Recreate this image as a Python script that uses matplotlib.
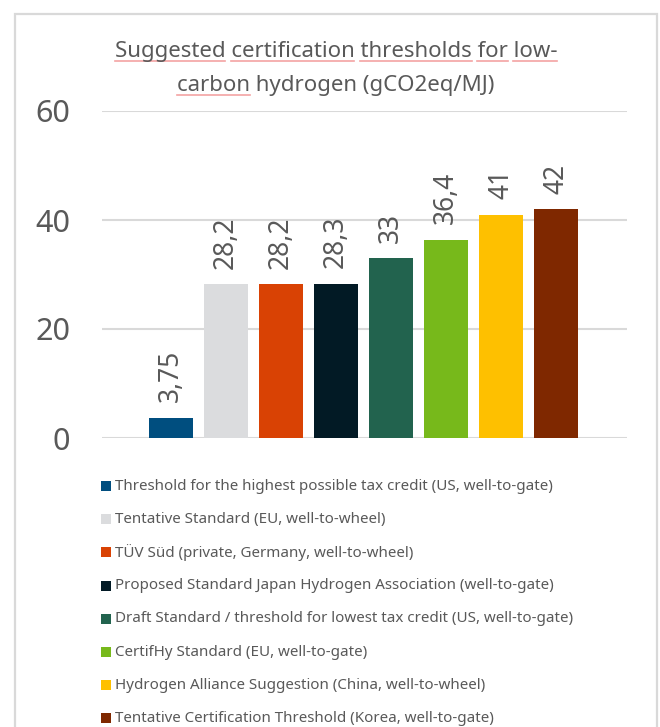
import matplotlib
matplotlib.use("Agg")
import matplotlib.pyplot as plt
from matplotlib.patches import Rectangle
from matplotlib.font_manager import FontProperties
from matplotlib.lines import Line2D

plt.rcParams['font.family'] = ['Noto Sans', 'DejaVu Sans']

# data
labels = [
    "Threshold for the highest possible tax credit (US, well-to-gate)",
    "Tentative Standard (EU, well-to-wheel)",
    "TÜV Süd (private, Germany, well-to-wheel)",
    "Proposed Standard Japan Hydrogen Association (well-to-gate)",
    "Draft Standard / threshold for lowest tax credit (US, well-to-gate)",
    "CertifHy Standard (EU, well-to-gate)",
    "Hydrogen Alliance Suggestion (China, well-to-wheel)",
    "Tentative Certification Threshold (Korea, well-to-gate)",
]
values = [3.75, 28.2, 28.2, 28.3, 33, 36.4, 41, 42]
colors = ["#004E7F", "#DBDCDE", "#D94204", "#021A25", "#22634E", "#77B91B", "#FEC000", "#7F2800"]
yticks = [0, 20, 40, 60]

txt = "#595959"
W, H = 660, 727
fig = plt.figure(figsize=(W / 100, H / 100), dpi=100)

# chart border
fig.patches.append(Rectangle((15 / W, -0.05), (657 - 15) / W, 1 - 14 / H + 0.05,
                             transform=fig.transFigure, fill=False,
                             edgecolor="#D9D9D9", linewidth=1.6))

ax = fig.add_axes([102 / W, 1 - 438 / H, (627 - 102) / W, (438 - 111) / H])
x = list(range(len(values)))
bars = ax.bar(x, values, width=0.8, color=colors)
ax.set_xlim(-1.255, 8.29)
ax.set_ylim(0, 60)
ax.set_yticks(yticks)
ax.set_xticks([])
ax.tick_params(axis="y", length=0, pad=23, labelsize=22, labelcolor=txt)
ax.yaxis.grid(True, color="#D9D9D9", linewidth=1.5)
ax.set_axisbelow(True)
for s in ax.spines.values():
    s.set_visible(False)

for xi, v in zip(x, values):
    ax.annotate(f"{v:g}".replace(".", ","), (xi, v), xytext=(0, 11),
                textcoords="offset points", rotation=90, ha="center", va="bottom",
                fontsize=19, color=txt)

# title
line1 = "Suggested certification thresholds for low-"
line2 = "carbon hydrogen (gCO2eq/MJ)"
fp = FontProperties(family=['Noto Sans', 'DejaVu Sans'], size=16)
t1 = fig.text(336 / W, 1 - 52 / H, line1, ha="center", va="center", fontproperties=fp, color=txt)
t2 = fig.text(336 / W, 1 - 86 / H, line2, ha="center", va="center", fontproperties=fp, color=txt)

# spell-check squiggle marks under title words
fig.canvas.draw()
r = fig.canvas.get_renderer()
def underline(t, words_idx, ypix):
    s = t.get_text()
    bb = t.get_window_extent(r)
    pos = 0
    for i, w in enumerate(s.split(" ")):
        start = s.index(w, pos)
        pos = start + len(w)
        if i not in words_idx:
            continue
        x0 = bb.x0 + (r.get_text_width_height_descent(s[:start], fp, ismath=False)[0] if start else 0)
        x1 = bb.x0 + r.get_text_width_height_descent(s[:pos], fp, ismath=False)[0]
        fig.add_artist(Line2D([x0 / W, x1 / W], [1 - ypix / H] * 2, transform=fig.transFigure,
                              color="#F4A3A3", linewidth=1.2))
underline(t1, [0, 1, 2, 3, 4], 61)
underline(t2, [0], 95)

# legend
for i, (lab, col) in enumerate(zip(labels, colors)):
    yc = 486 + 33.2 * i
    fig.patches.append(Rectangle((101 / W, 1 - (yc + 5) / H), 10 / W, 10 / H,
                                 transform=fig.transFigure, facecolor=col, edgecolor="none"))
    fig.text(115 / W, 1 - yc / H, lab, ha="left", va="center", fontsize=10.9, color=txt)

fig.savefig("out.png", dpi=100)
